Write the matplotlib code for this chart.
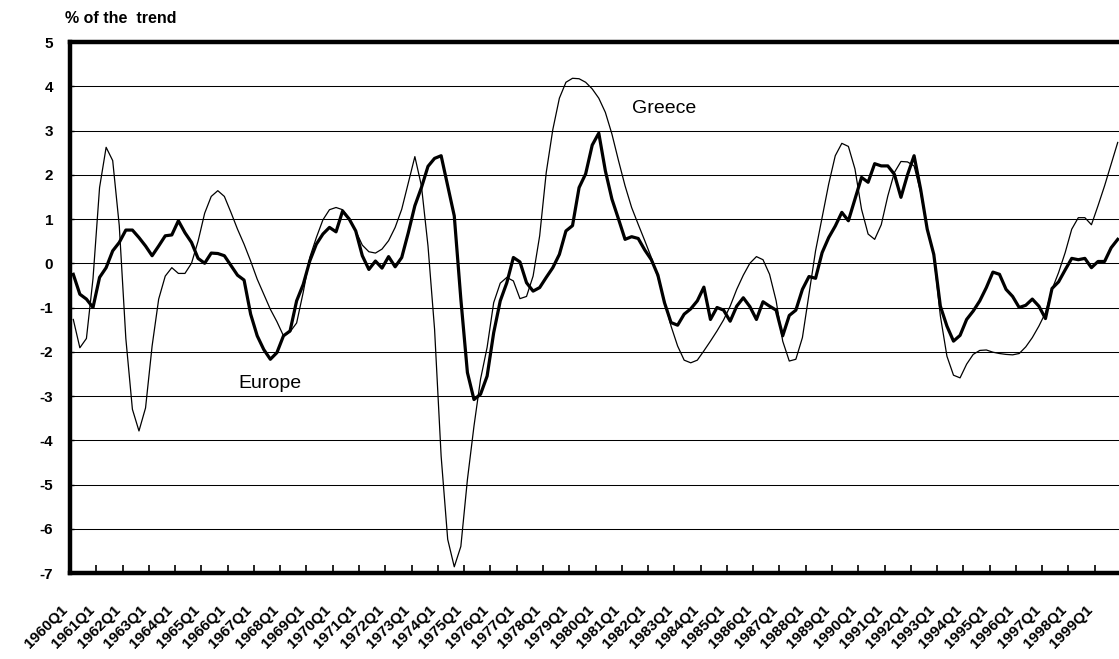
import numpy as np
import matplotlib
matplotlib.use("Agg")
import matplotlib.pyplot as plt
from matplotlib.transforms import ScaledTranslation

plt.rcParams['font.family'] = ['Liberation Sans', 'DejaVu Sans']

# quarterly cyclical component, % of the trend, 1960Q1 .. 1999Q4
europe = [-0.25, -0.70, -0.81, -1.00, -0.32, -0.10, 0.28, 0.47, 0.75, 0.75,
          0.58, 0.39, 0.17, 0.39, 0.62, 0.64, 0.96, 0.69, 0.47, 0.11,
          0.00, 0.23, 0.22, 0.17, -0.05, -0.27, -0.38, -1.15, -1.64, -1.95,
          -2.17, -2.02, -1.64, -1.53, -0.85, -0.48, 0.05, 0.43, 0.66, 0.81,
          0.71, 1.18, 1.00, 0.73, 0.17, -0.14, 0.05, -0.11, 0.15, -0.08,
          0.13, 0.69, 1.30, 1.71, 2.19, 2.37, 2.43, 1.75, 1.07, -0.81,
          -2.47, -3.08, -2.96, -2.55, -1.57, -0.85, -0.44, 0.13, 0.03, -0.44,
          -0.63, -0.55, -0.32, -0.10, 0.20, 0.73, 0.85, 1.71, 2.02, 2.67,
          2.94, 2.09, 1.45, 1.00, 0.54, 0.60, 0.56, 0.30, 0.08, -0.27,
          -0.89, -1.34, -1.40, -1.15, -1.03, -0.85, -0.54, -1.27, -1.00, -1.06,
          -1.31, -0.97, -0.78, -0.98, -1.27, -0.87, -0.97, -1.06, -1.64, -1.18,
          -1.06, -0.59, -0.30, -0.34, 0.24, 0.58, 0.84, 1.15, 0.96, 1.45,
          1.94, 1.83, 2.25, 2.20, 2.20, 2.01, 1.49, 2.00, 2.43, 1.67,
          0.77, 0.20, -0.97, -1.42, -1.76, -1.63, -1.27, -1.08, -0.85, -0.55,
          -0.20, -0.25, -0.59, -0.75, -1.00, -0.95, -0.81, -0.97, -1.25, -0.57,
          -0.42, -0.15, 0.11, 0.08, 0.11, -0.10, 0.04, 0.04, 0.35, 0.54]

greece = [-1.27, -1.91, -1.70, -0.35, 1.71, 2.62, 2.32, 0.85, -1.70, -3.30,
          -3.79, -3.27, -1.87, -0.81, -0.29, -0.10, -0.23, -0.23, 0.00, 0.50,
          1.13, 1.51, 1.64, 1.51, 1.15, 0.77, 0.43, 0.05, -0.36, -0.70,
          -1.04, -1.32, -1.64, -1.55, -1.35, -0.66, 0.13, 0.58, 0.98, 1.21,
          1.26, 1.21, 1.01, 0.73, 0.41, 0.26, 0.23, 0.32, 0.51, 0.81,
          1.22, 1.82, 2.41, 1.75, 0.39, -1.49, -4.36, -6.24, -6.86, -6.40,
          -4.89, -3.68, -2.62, -1.90, -0.89, -0.45, -0.32, -0.40, -0.80, -0.75,
          -0.29, 0.62, 2.05, 3.02, 3.73, 4.09, 4.18, 4.17, 4.09, 3.94,
          3.73, 3.41, 2.92, 2.32, 1.75, 1.26, 0.88, 0.51, 0.13, -0.32,
          -0.85, -1.42, -1.87, -2.19, -2.25, -2.19, -1.98, -1.76, -1.53, -1.28,
          -0.97, -0.59, -0.27, 0.00, 0.15, 0.08, -0.25, -0.85, -1.76, -2.21,
          -2.17, -1.68, -0.70, 0.28, 1.03, 1.79, 2.43, 2.71, 2.64, 2.13,
          1.22, 0.66, 0.54, 0.87, 1.52, 2.05, 2.30, 2.29, 2.20, 1.60,
          0.77, 0.17, -1.19, -2.10, -2.53, -2.59, -2.28, -2.06, -1.97, -1.96,
          -2.01, -2.04, -2.06, -2.07, -2.04, -1.89, -1.68, -1.42, -1.12, -0.59,
          -0.21, 0.24, 0.77, 1.03, 1.03, 0.87, 1.30, 1.75, 2.24, 2.73]

years = list(range(1960, 2000))
year_labels = [str(y) + "Q1" for y in years]
y_ticks = list(range(-7, 6))

x = np.arange(len(europe))

fig = plt.figure(figsize=(11.19, 6.59), dpi=100)
# axes runs a little past the right edge of the picture, like the original
ax = fig.add_axes([70 / 1119, 1 - 573 / 659, 1051 / 1119, 531 / 659])

ax.plot(x, greece, color='black', lw=0.9, zorder=3)
ax.plot(x, europe, color='black', lw=2.3, zorder=4)

ax.set_xlim(-0.5, len(europe) - 0.5)
ax.set_ylim(-7, 5)

# horizontal grid
ax.set_yticks(y_ticks)
ax.set_yticklabels([str(v) for v in y_ticks], fontsize=11, fontweight='bold')
ax.yaxis.grid(True, color='black', lw=0.75)
ax.set_axisbelow(True)
ax.tick_params(axis='y', length=3, width=1, direction='in', pad=12)

# year ticks between categories, labels on Q1 positions
ax.set_xticks(np.arange(3.5, len(europe), 4))
ax.set_xticklabels([])
ax.tick_params(axis='x', which='major', length=5.5, width=1.2, direction='in')
ax.set_xticks(np.arange(0, len(europe), 4), minor=True)
ax.set_xticklabels(year_labels, minor=True, fontsize=11, fontweight='bold',
                   rotation=45, ha='right', va='center', rotation_mode='anchor')
ax.tick_params(axis='x', which='minor', length=0, pad=0)
offset = ScaledTranslation(-7.5 / 100, -35 / 100, fig.dpi_scale_trans)
for lab in ax.get_xticklabels(minor=True):
    lab.set_transform(lab.get_transform() + offset)

for side in ['left', 'top', 'bottom', 'right']:
    ax.spines[side].set_linewidth(3.2)

ax.text(90, 3.5, "Greece", fontsize=14, ha='center', va='center')
ax.text(30, -2.72, "Europe", fontsize=14, ha='center', va='center')

fig.text(65 / 1119, 1 - 23 / 659, "% of the  trend", fontsize=11.5,
         fontweight='bold', ha='left', va='baseline')

fig.savefig("out.png", dpi=100)
